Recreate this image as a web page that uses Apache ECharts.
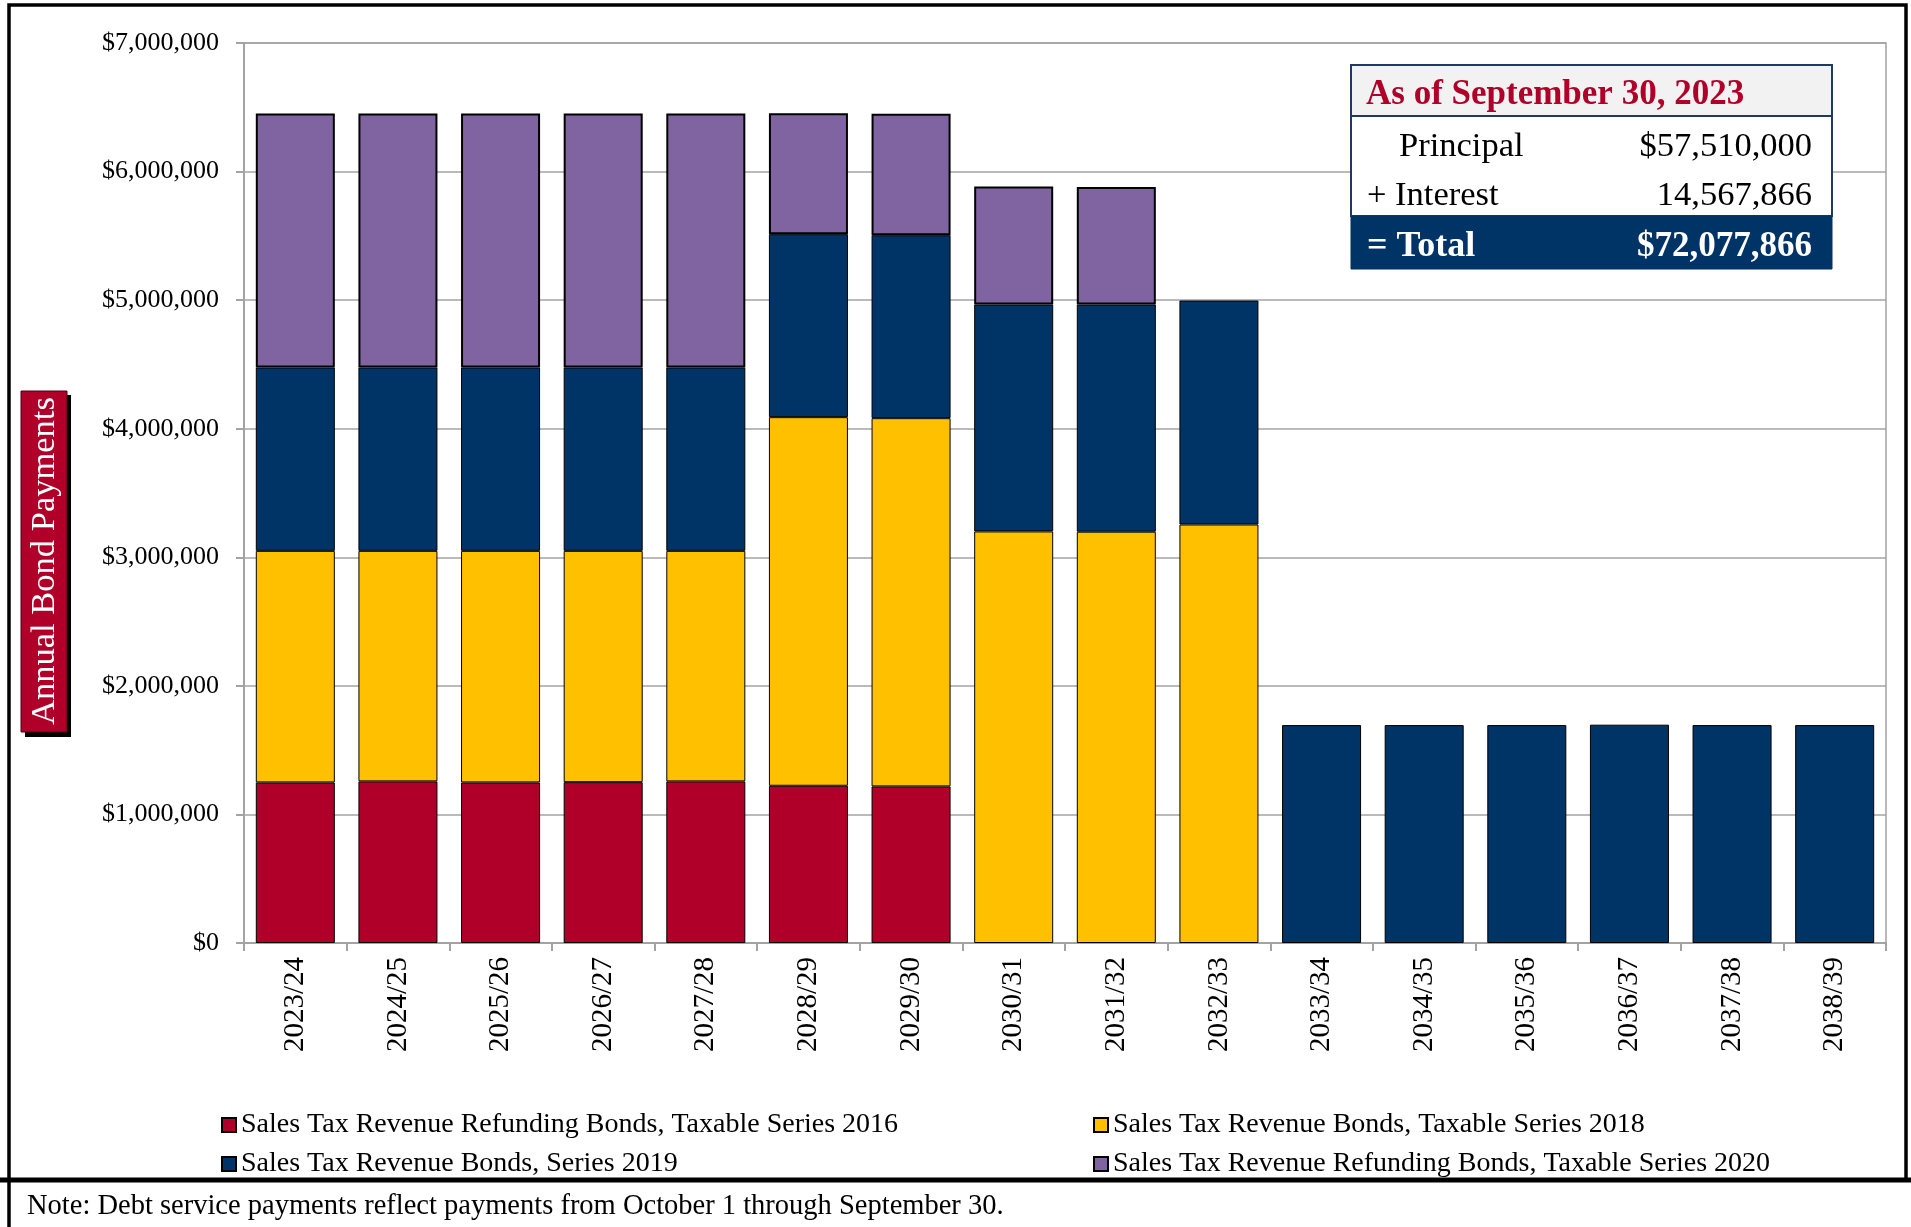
<!DOCTYPE html>
<html>
<head>
<meta charset="utf-8">
<title>Annual Bond Payments</title>
<script src="https://cdn.jsdelivr.net/npm/echarts@6/dist/echarts.min.js"></script>
<style>
  html, body { margin: 0; padding: 0; background: #fff; }
  #chart { width: 1911px; height: 1227px; }
</style>
</head>
<body>
<div id="chart"></div>
<script>
// Fiscal years (October 1 – September 30)
const categories = ['2023/24', '2024/25', '2025/26', '2026/27', '2027/28', '2028/29', '2029/30', '2030/31',
  '2031/32', '2032/33', '2033/34', '2034/35', '2035/36', '2036/37', '2037/38', '2038/39'];

// Annual debt service by bond issue (dollars)
const series2016 = [1249000, 1257000, 1249000, 1251000, 1257000, 1223000, 1218000,
  null, null, null, null, null, null, null, null, null];
const series2018 = [1801000, 1793000, 1801000, 1799000, 1793000, 2867000, 2864000, 3201000,
  3199000, 3255000, null, null, null, null, null, null];
const series2019 = [1426000, 1426000, 1426000, 1426000, 1426000, 1423000, 1423000, 1765000,
  1767000, 1742000, 1695000, 1695000, 1695000, 1698000, 1695000, 1695000];
const series2020 = [1975000, 1975000, 1975000, 1975000, 1975000, 940000, 945000, 917000,
  914000, null, null, null, null, null, null, null];

const seriesNames = [
  'Sales Tax Revenue Refunding Bonds, Taxable Series 2016',
  'Sales Tax Revenue Bonds, Taxable Series 2018',
  'Sales Tax Revenue Bonds, Series 2019',
  'Sales Tax Revenue Refunding Bonds, Taxable Series 2020'
];

// Y axis scale
const yMin = 0, yMax = 7000000, yStep = 1000000;

// Summary box
const summaryTitle = 'As of September 30, 2023';
const principalText = '$57,510,000';
const interestText = '14,567,866';
const totalText = '$72,077,866';
const noteText = 'Note: Debt service payments reflect payments from October 1 through September 30.';
const axisTitle = 'Annual Bond Payments';

const FONT = '"Liberation Serif", "DejaVu Serif", serif';
const RED = '#b0002a', GOLD = '#ffc000', NAVY = '#003366', PURPLE = '#8064a2';
const GRID_GRAY = '#a3a3a3';

const chart = echarts.init(document.getElementById('chart'), null, { renderer: 'canvas' });

function money(v) {
  return '$' + Math.round(v).toLocaleString('en-US');
}

function barSeries(name, data, color, borderW) {
  return {
    name: name,
    type: 'bar',
    stack: 'debt',
    data: data,
    barCategoryGap: '23%',
    itemStyle: { color: color, borderColor: '#000', borderWidth: borderW },
    emphasis: { disabled: true }
  };
}

const legendText = { fontFamily: FONT, fontSize: 28, color: '#000', lineHeight: 28 };

const option = {
  backgroundColor: '#fff',
  animation: false,
  grid: {
    left: 244, top: 43, width: 1642, height: 900,
    show: true, borderColor: GRID_GRAY, borderWidth: 1.5, backgroundColor: 'transparent'
  },
  xAxis: {
    type: 'category',
    data: categories,
    axisLine: { lineStyle: { color: GRID_GRAY, width: 2 } },
    axisTick: { show: true, length: 8, lineStyle: { color: GRID_GRAY, width: 2 } },
    axisLabel: { rotate: 90, margin: 14, fontFamily: FONT, fontSize: 29, color: '#000' }
  },
  yAxis: {
    type: 'value',
    min: yMin, max: yMax, interval: yStep,
    axisLine: { show: true, lineStyle: { color: GRID_GRAY, width: 2 } },
    axisTick: { show: true, length: 8, lineStyle: { color: GRID_GRAY, width: 2 } },
    splitLine: { lineStyle: { color: GRID_GRAY, width: 1.5 } },
    axisLabel: { margin: 25, fontFamily: FONT, fontSize: 26, color: '#000', formatter: money }
  },
  legend: [
    {
      left: 221, top: 1111, padding: 0, orient: 'vertical', itemGap: 11,
      itemWidth: 14, itemHeight: 14, itemTextGap: 6, icon: 'rect',
      data: [seriesNames[0], seriesNames[2]],
      textStyle: legendText, selectedMode: false
    },
    {
      left: 1093, top: 1111, padding: 0, orient: 'vertical', itemGap: 11,
      itemWidth: 14, itemHeight: 14, itemTextGap: 6, icon: 'rect',
      data: [seriesNames[1], seriesNames[3]],
      textStyle: legendText, selectedMode: false
    }
  ],
  series: [
    barSeries(seriesNames[0], series2016, RED, 1),
    barSeries(seriesNames[1], series2018, GOLD, 1),
    barSeries(seriesNames[2], series2019, NAVY, 1),
    barSeries(seriesNames[3], series2020, PURPLE, 2)
  ],
  graphic: [
    // outer frame and note divider
    { type: 'rect', shape: { x: 9, y: 5, width: 1897, height: 1175 },
      style: { fill: 'none', stroke: '#000', lineWidth: 3.5 }, z: 100 },
    { type: 'line', shape: { x1: 0, y1: 1180, x2: 1911, y2: 1180 },
      style: { stroke: '#000', lineWidth: 5 }, z: 100 },
    { type: 'line', shape: { x1: 9, y1: 1180, x2: 9, y2: 1227 },
      style: { stroke: '#000', lineWidth: 3.5 }, z: 100 },
    { type: 'text', x: 27, y: 1207,
      style: { text: noteText, fontFamily: FONT, fontSize: 28.5, fill: '#000', verticalAlign: 'middle' }, z: 100 },

    // vertical axis title badge
    { type: 'rect', shape: { x: 25, y: 395, width: 46, height: 342 },
      style: { fill: '#000' }, z: 100 },
    { type: 'rect', shape: { x: 21, y: 391, width: 46, height: 341 },
      style: { fill: RED, stroke: '#4a0010', lineWidth: 1 }, z: 101 },
    { type: 'text', x: 45, y: 561, rotation: Math.PI / 2,
      style: { text: axisTitle, fontFamily: FONT, fontSize: 34.5, fill: '#fff',
        align: 'center', verticalAlign: 'middle' }, z: 102 },

    // summary box
    { type: 'rect', shape: { x: 1351, y: 116, width: 481, height: 100 },
      style: { fill: '#fff', stroke: '#1f3864', lineWidth: 2 }, z: 100 },
    { type: 'rect', shape: { x: 1351, y: 65, width: 481, height: 51 },
      style: { fill: '#f2f2f2', stroke: '#1f3864', lineWidth: 2 }, z: 101 },
    { type: 'rect', shape: { x: 1351, y: 216, width: 481, height: 53 },
      style: { fill: NAVY, stroke: NAVY, lineWidth: 1 }, z: 101 },
    { type: 'text', x: 1366, y: 95,
      style: { text: summaryTitle, fontFamily: FONT, fontSize: 35, fontWeight: 'bold', fill: RED,
        verticalAlign: 'middle' }, z: 102 },
    { type: 'text', x: 1399, y: 147,
      style: { text: 'Principal', fontFamily: FONT, fontSize: 34.5, fill: '#000', verticalAlign: 'middle' }, z: 102 },
    { type: 'text', x: 1812, y: 147,
      style: { text: principalText, fontFamily: FONT, fontSize: 34.5, fill: '#000',
        align: 'right', verticalAlign: 'middle' }, z: 102 },
    { type: 'text', x: 1367, y: 196,
      style: { text: '+ Interest', fontFamily: FONT, fontSize: 34.5, fill: '#000', verticalAlign: 'middle' }, z: 102 },
    { type: 'text', x: 1812, y: 196,
      style: { text: interestText, fontFamily: FONT, fontSize: 34.5, fill: '#000',
        align: 'right', verticalAlign: 'middle' }, z: 102 },
    { type: 'text', x: 1367, y: 247,
      style: { text: '= Total', fontFamily: FONT, fontSize: 36, fontWeight: 'bold', fill: '#fff',
        verticalAlign: 'middle' }, z: 102 },
    { type: 'text', x: 1812, y: 247,
      style: { text: totalText, fontFamily: FONT, fontSize: 35, fontWeight: 'bold', fill: '#fff',
        align: 'right', verticalAlign: 'middle' }, z: 102 }
  ]
};

chart.setOption(option);
</script>
</body>
</html>
